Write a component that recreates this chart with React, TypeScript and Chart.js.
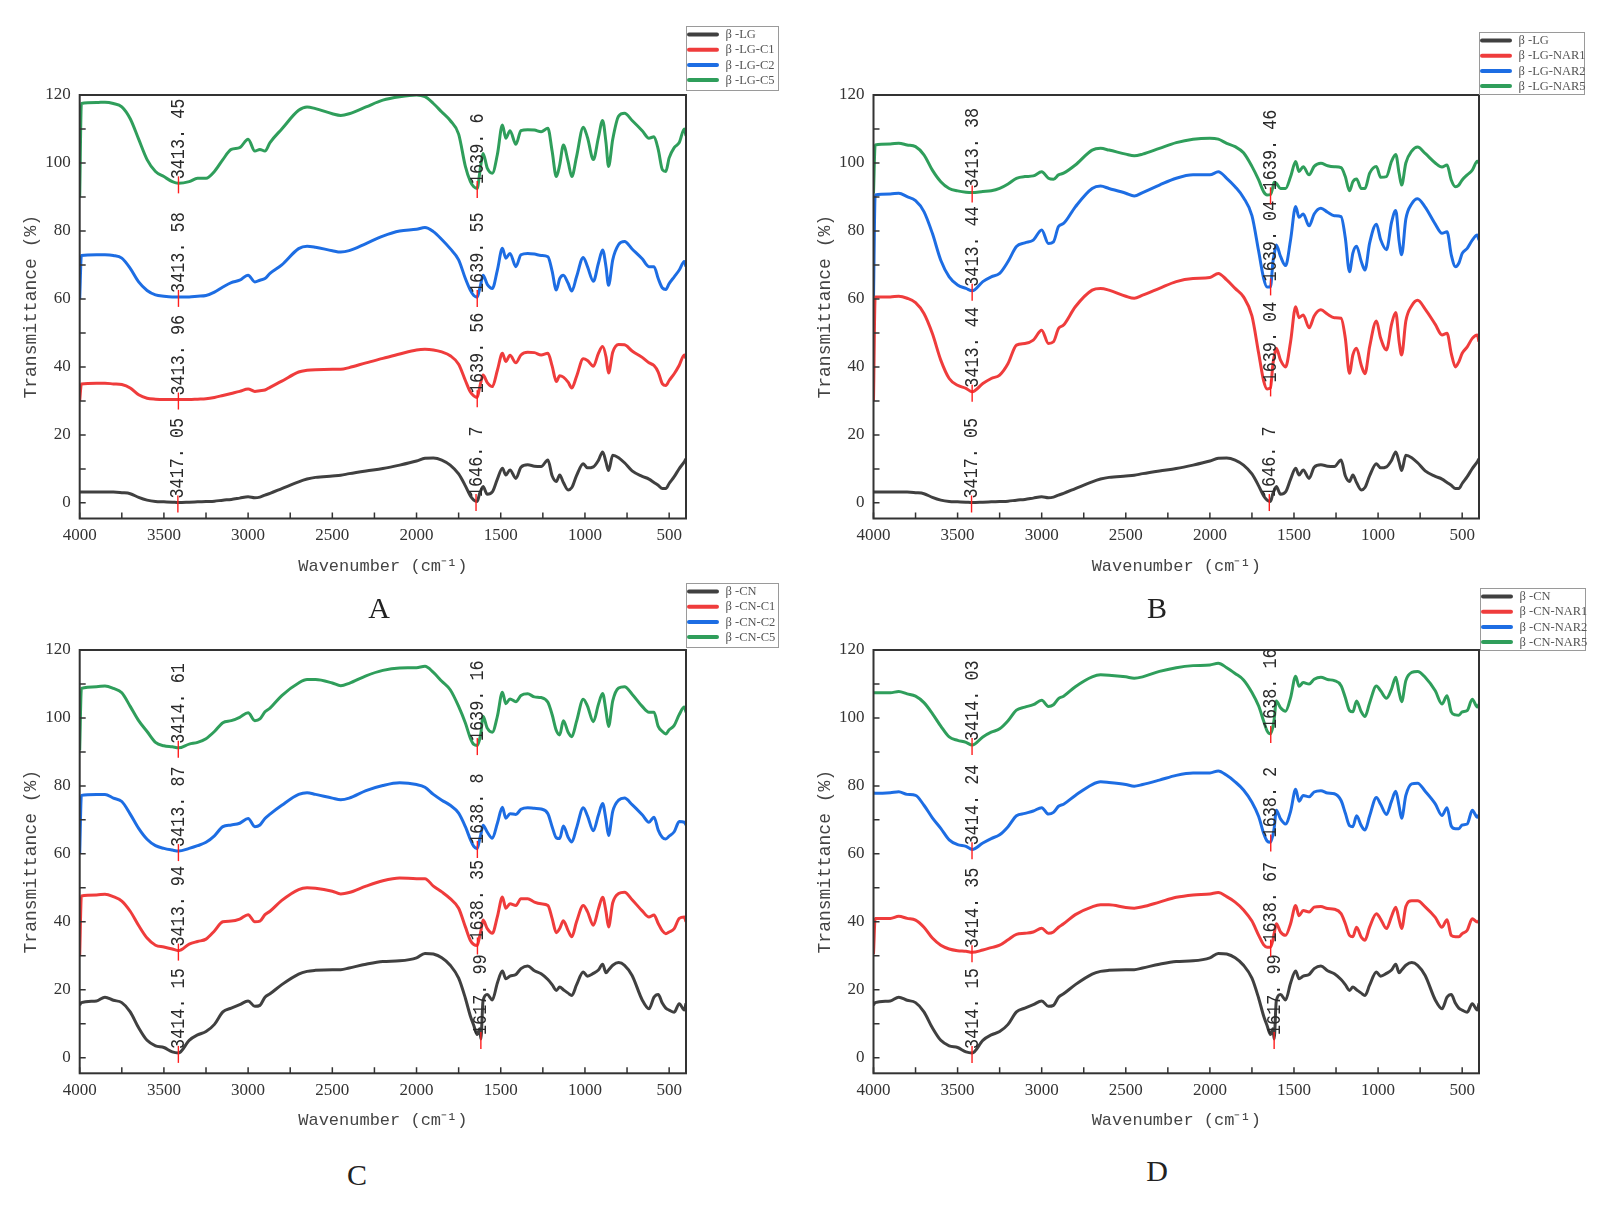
import React, { useEffect, useRef } from 'react';
import { Chart, registerables } from 'chart.js';

Chart.register(...registerables);

// ---------- data ----------
const WAVENUMBERS = [
  4000, 3990, 3900, 3850, 3800, 3750, 3700, 3650, 3600, 3550, 3500, 3450, 3413, 3350, 3300, 3250, 3200, 3150, 3100, 3050,
  3000, 2960, 2930, 2900, 2870, 2800, 2700, 2650, 2600, 2500, 2450, 2400, 2300, 2200, 2100, 2000, 1950, 1900, 1850, 1800,
  1750, 1710, 1680, 1660, 1640, 1625, 1618, 1605, 1580, 1550, 1520, 1490, 1470, 1445, 1410, 1380, 1340, 1300, 1260, 1220,
  1195, 1170, 1150, 1128, 1100, 1078, 1050, 1010, 985, 950, 920, 895, 875, 860, 835, 800, 765, 720, 660, 620,
  590, 565, 540, 520, 500, 470, 440, 410, 400,
];

const LG = [
  3.2, 3.2, 3.2, 3.2, 3.2, 3.0, 2.7, 1.6, 0.8, 0.4, 0.3, 0.2, 0.1, 0.2, 0.3, 0.4, 0.5, 0.8, 1.0, 1.4,
  1.8, 1.5, 1.7, 2.3, 2.8, 4.2, 6.2, 7.0, 7.5, 7.9, 8.1, 8.6, 9.4, 10.1, 11.1, 12.3, 13.1, 13.2, 12.6, 11.1,
  8.5, 5, 2, 0.8, 0.4, 2.8, 3.6, 4.8, 2.5, 3.2, 7, 10.2, 8.2, 9.7, 7.2, 10.5, 11.2, 10.8, 10.7, 12.6,
  8, 6.3, 8.2, 6, 3.8, 4.5, 8, 11.5, 10.3, 10.6, 12.5, 15, 12, 9.5, 14, 13.3, 11.8, 9.4, 7.8, 7,
  6, 5.2, 4.2, 4.2, 5.7, 7.7, 10.1, 12.1, 13,
];
const LG_C1 = [
  30, 35, 35.2, 35.2, 35, 34.8, 33.8, 31.8, 30.8, 30.5, 30.4, 30.4, 30.4, 30.4, 30.5, 30.6, 31, 31.6, 32.2, 32.8,
  33.5, 32.8, 33, 33.2, 34, 35.8, 38.5, 39, 39.2, 39.3, 39.3, 39.8, 41.2, 42.5, 43.8, 45, 45.2, 45, 44.4, 43.3,
  40.8, 36, 32.6, 31.5, 31, 34, 35.5, 37.6, 35.4, 34.2, 39, 44, 41.6, 43.4, 41.2, 43.5, 44.3, 44.2, 43.5, 44,
  40.3, 35.7, 37.4, 37, 35.5, 33.8, 37.2, 42.4, 41.9, 40.2, 44, 46, 43, 38.2, 44.3, 46.6, 46.5, 44.7, 42.8, 41.2,
  40.4, 38.5, 35, 34.5, 36, 38, 40.5, 43.5, 42.5,
];
const LG_C2 = [
  60, 72.8, 73, 73, 72.8, 72, 69, 65, 62.5, 61.2, 60.8, 60.6, 60.6, 60.6, 60.8, 61, 62, 63.5, 64.8, 65.5,
  67, 65, 65.5, 66, 67.5, 70, 74.8, 75.5, 75.2, 74.2, 73.8, 74.2, 76.3, 78.5, 80, 80.5, 81, 79.8, 77.5, 74.8,
  71.5, 66, 62.5, 61, 60.5, 63, 64.5, 67, 64.3, 63.1, 68.5, 74.9, 72, 73.4, 69.5, 73, 73.4, 73.2, 72.8, 72.4,
  68.2, 62.6, 66, 67, 64.6, 62.3, 66.5, 72.2, 69.5, 65.2, 70.5, 74.4, 69.5, 64, 71.5, 76, 76.9, 74.7, 71.8, 69.5,
  69.5, 66, 63.2, 62.8, 64.5, 66.5, 68.5, 71, 69.5,
];
const LG_C5 = [
  90, 117.5, 117.8, 117.9, 117.5, 116.5, 113, 107, 101, 97.5, 96, 94.5, 94, 94.5, 95.5, 95.5, 97.5, 101, 104, 104.5,
  107, 103.5, 104, 103.5, 106, 110, 115.5, 116.5, 116, 114.5, 114, 114.5, 116.5, 118.5, 119.5, 120, 119.5, 117.5, 115, 112.5,
  108.5, 99, 94.5, 93, 92.5, 97, 99.5, 102.8, 98.5, 97, 102.5, 111.2, 107.3, 109.5, 105.5, 109.5, 109.8, 109.7, 109.2, 110.2,
  103.5, 96, 99.4, 105.3, 100.4, 96, 101.8, 110.5, 107.5, 101, 107.5, 112.5, 106, 99, 107, 113.8, 114.6, 112.5, 109.5, 107.3,
  107.7, 104, 98, 97.5, 101.5, 104.5, 106, 110, 108,
];
const LG_NAR1 = [
  30, 60.6, 60.6, 60.8, 60.2, 58.9, 55.7, 49.8, 42, 36.6, 34.6, 33.7, 32.7, 35.1, 36.6, 37.6, 41, 46.4, 46.9, 47.9,
  50.8, 46.9, 47.4, 51.3, 52.3, 57.7, 62.6, 63.1, 62.6, 60.8, 60.2, 61.1, 63.1, 65.1, 66, 66.3, 67.5, 65.6, 63.1, 60.6,
  55, 44, 35.8, 33.5, 33.8, 41, 43, 45.5, 42, 40, 47.5, 57.7, 54.5, 55.3, 51.5, 55, 56.8, 55.5, 54.5, 54.3,
  48.5, 38.1, 43.5, 45.5, 40.5, 38, 46, 53.5, 48.5, 45, 52.5, 56, 47.5, 43.5, 53.5, 58, 59.6, 57, 52.5, 49.4,
  49.9, 44, 40, 41.5, 44, 45.9, 48.4, 49.4, 47.4,
];
const LG_NAR2 = [
  60, 90.6, 90.9, 91.1, 90.1, 88.9, 85.7, 79.3, 71.4, 66.5, 64.1, 63.1, 62.4, 65.1, 66.5, 67.5, 71, 75.4, 76.5, 77.3,
  80.3, 76.3, 76.8, 81.3, 82.2, 87.1, 92.5, 93.2, 92.5, 91.1, 90.3, 91.3, 93.5, 95.5, 96.5, 96.5, 97.4, 95.5, 93, 89.8,
  84.5, 74, 66, 63.5, 63.5, 71, 73, 75.9, 72.5, 69.8, 77.5, 87.2, 84, 85, 81.5, 85, 86.7, 85.5, 84.5, 84.2,
  78, 68, 73.5, 75.5, 71, 68.5, 76.5, 82, 77.5, 74.5, 82.5, 86, 77, 73, 83.5, 88, 89.5, 87, 82, 79.3,
  79.8, 73, 69.5, 70.5, 73.4, 74.9, 77.3, 78.8, 77.3,
];
const LG_NAR5 = [
  91, 105.3, 105.6, 105.8, 105.3, 104.8, 102.4, 97.9, 94.5, 92.5, 91.8, 91.4, 91.3, 91.6, 91.8, 92.5, 93.8, 95.5, 96, 96.2,
  97.4, 95.5, 95.2, 96.5, 97, 99.4, 103.8, 104.3, 103.8, 102.6, 102.1, 102.6, 104.3, 106, 107, 107.3, 107, 105.8, 104.8, 103,
  99, 95, 91.5, 90.6, 90.7, 93, 94.3, 94, 92.5, 92.5, 96, 100.4, 97.5, 98.9, 96.5, 99, 99.9, 99.2, 98.9, 98.6,
  96, 91.8, 94.5, 95.3, 92.5, 92.5, 97, 99, 95.8, 96, 100.5, 102.5, 97, 93.5, 100, 103.5, 104.7, 102.8, 100, 98.8,
  99.4, 95, 93, 93.5, 95, 96.5, 97.9, 100.5, 99.9,
];
const CN = [
  15.5, 16.2, 16.7, 17.8, 16.9, 16.2, 13.5, 8.8, 5.1, 3.5, 3, 1.7, 1.4, 5.1, 6.7, 7.7, 9.8, 13.5, 14.6, 15.6,
  16.7, 15.1, 15.4, 17.8, 18.8, 21.5, 24.6, 25.4, 25.7, 25.9, 25.9, 26.4, 27.5, 28.3, 28.5, 29.4, 30.7, 30.5, 29.4, 27.2,
  23.4, 17.5, 12.2, 9.5, 6.8, 8.5, 5.5, 16.8, 18.6, 17, 22, 25.5, 23.2, 24, 24.5, 26.2, 27, 25.6, 24.7, 23,
  21.5, 19.8, 20.8, 20, 19, 18.3, 21.4, 25.2, 24, 24.8, 25.8, 27.5, 25, 25.8, 27.2, 28, 27.2, 24.2, 17, 14.4,
  17.8, 18.6, 16, 14.6, 14, 13.4, 15.9, 14, 16,
];
const CN_C1 = [
  30, 47.6, 47.9, 48.1, 47.4, 46.1, 43.1, 38.9, 35.2, 33.1, 32.6, 32, 31.5, 33.4, 34.2, 34.9, 37.3, 40, 40.2, 40.8,
  42.1, 40, 40.2, 42.1, 43.1, 46.3, 49.5, 50, 49.9, 49, 48.2, 48.6, 50.5, 52.1, 52.9, 52.7, 52.7, 50.5, 48.8, 46.8,
  44, 38.5, 34.5, 33.3, 33, 35.8, 37.3, 40.5, 38, 36.6, 41.5, 47.3, 44, 45.3, 44.8, 46.8, 46.8, 45.8, 45.3, 44.8,
  41, 36.8, 38, 40.3, 37.4, 35.6, 40, 44.8, 43, 39, 43.8, 47.2, 43, 38.5, 45.6, 48.3, 48.7, 46.5, 43.2, 41.4,
  42, 39.5, 37.3, 36.5, 37, 38, 41, 41.4, 40,
];
const CN_C2 = [
  60, 77.2, 77.5, 77.5, 76.4, 75.4, 71.7, 67.5, 64.3, 62.4, 61.6, 61.1, 60.8, 61.6, 62.4, 63.4, 65.3, 68, 68.5, 69,
  70.4, 68, 68.5, 70.4, 71.7, 74.3, 77.5, 78, 77.5, 76.4, 75.9, 76.4, 78.6, 80.1, 80.9, 80.4, 79.6, 77.5, 75.8, 74.3,
  72, 68, 64.2, 62.2, 61.5, 64.3, 65.7, 68.4, 66.4, 64.6, 69, 73.7, 70.5, 71.8, 71.6, 73.1, 73.6, 73.4, 73.2, 71.8,
  68, 64.7, 64.5, 68.2, 64.9, 63.5, 67.6, 73.6, 71.2, 66.8, 71.4, 74.8, 70, 65.4, 72.5, 75.8, 76.4, 74.5, 71.5, 69.3,
  70.8, 67, 64.8, 64.4, 65.2, 66.5, 69.5, 69.3, 68.5,
];
const CN_C5 = [
  90.5, 108.7, 109.2, 109.4, 108.7, 107.4, 103.4, 99.2, 96, 92.8, 91.8, 91.5, 91.2, 92.3, 92.8, 93.9, 96, 98.6, 99.2, 100.2,
  101.5, 99.2, 99.7, 101.8, 102.9, 106.6, 110.3, 111.3, 111.3, 110.3, 109.5, 110.2, 112.4, 114, 114.7, 114.8, 115.2, 113.4, 110.8, 108.3,
  103.4, 98.5, 94, 92.2, 91.9, 93.8, 95.5, 100.5, 97, 95.8, 100.5, 107.6, 104.2, 105.6, 104.8, 106.6, 107.1, 106.2, 106, 104.6,
  101, 96.3, 95, 99.2, 95.8, 94.5, 99, 105.5, 103.5, 98.9, 104, 107.2, 102, 97.5, 105, 108.8, 109.2, 107, 103.4, 101.7,
  101.7, 97.5, 96, 95.3, 96.5, 97.8, 101, 103.2, 101.7,
];
const CN_NAR1 = [
  30.5, 41, 41, 41.6, 41, 40.5, 38.4, 35.2, 33.1, 32, 31.5, 31.3, 31, 31.7, 32.4, 33.1, 34.7, 36.3, 36.6, 37,
  38.1, 36.6, 37, 38.4, 39.4, 42.1, 44.4, 45, 45, 44.2, 44, 44.4, 45.8, 47.2, 47.9, 48.2, 48.6, 47.4, 45.8, 43.5,
  40.2, 36, 33.2, 32.5, 32.5, 34.7, 36.5, 39.4, 37, 36, 39.5, 44.8, 41.8, 43.3, 42.9, 44.3, 44.5, 43.9, 43.7, 42.4,
  39.5, 36, 35.6, 38.4, 35.5, 34.6, 38.5, 42.4, 40.8, 38, 41.6, 44.3, 40.6, 38, 44.5, 46.2, 46.2, 44.4, 41.3, 38.4,
  40.6, 36, 35.6, 35.6, 36.5, 37.5, 40.9, 39.9, 40.3,
];
const CN_NAR2 = [
  78, 77.8, 78, 78.3, 77.5, 77.2, 74.3, 70.6, 67.5, 64.1, 62.7, 62.2, 61.3, 63.2, 64.5, 65.6, 68, 71.2, 71.9, 72.6,
  73.6, 71.7, 72.2, 74, 74.6, 77.2, 80.4, 81.2, 81, 80.4, 79.9, 80.4, 81.7, 83.1, 83.8, 83.8, 84.4, 83.1, 81.2, 78.8,
  75.2, 71, 66, 63.8, 63.4, 65.6, 67.5, 72.8, 70.3, 68.8, 72.5, 79, 75.5, 77.2, 76.8, 78.2, 78.6, 77.9, 77.7, 75.7,
  72, 68.3, 68, 71.2, 68.3, 67, 71.2, 76.6, 74.6, 71.6, 75.5, 78.4, 74, 70.5, 77.2, 80.6, 80.8, 78.4, 74.7, 71.3,
  73.6, 68.2, 67.4, 67.4, 68.5, 68.8, 72.8, 70.8, 71.5,
];
const CN_NAR5 = [
  107.4, 107.4, 107.4, 107.8, 107.1, 106.4, 104.5, 101.3, 97.6, 94.4, 93.4, 92.8, 92, 94.4, 95.8, 96.8, 99.2, 102.3, 103.2, 103.9,
  105.2, 103.4, 103.9, 105.7, 106.4, 109.2, 112.1, 112.7, 112.6, 112.1, 111.7, 112.1, 113.7, 114.8, 115.4, 115.6, 116.1, 114.8, 113.1, 111.2,
  107.5, 103.5, 99, 96.2, 95.3, 97.5, 99.5, 105, 103, 102, 106, 112.3, 109.3, 110.4, 110, 111.4, 112, 111.3, 111, 109.5,
  106, 102.2, 101.8, 105, 101.8, 100.4, 104.5, 109.4, 108, 105.8, 108.5, 112, 107.5, 104.8, 111, 113.4, 113.7, 112, 108, 104.1,
  106.5, 101.8, 100.9, 100.8, 101.8, 102.2, 105.5, 103.2, 104,
];

const X_TICKS = [4000, 3500, 3000, 2500, 2000, 1500, 1000, 500];
const X_TICK_MARKS = [4000, 3750, 3500, 3250, 3000, 2750, 2500, 2250, 2000, 1750, 1500, 1250, 1000, 750, 500];
const Y_TICKS = [0, 20, 40, 60, 80, 100, 120];
const Y_TICK_MARKS = [0, 10, 20, 30, 40, 50, 60, 70, 80, 90, 100, 110, 120];

const NAMES_A = ['β -LG', 'β -LG-C1', 'β -LG-C2', 'β -LG-C5'];
const NAMES_B = ['β -LG', 'β -LG-NAR1', 'β -LG-NAR2', 'β -LG-NAR5'];
const NAMES_C = ['β -CN', 'β -CN-C1', 'β -CN-C2', 'β -CN-C5'];
const NAMES_D = ['β -CN', 'β -CN-NAR1', 'β -CN-NAR2', 'β -CN-NAR5'];

const PEAKS_A = [['3417.05', '1646.7'], ['3413.96', '1639.56'], ['3413.58', '1639.55'], ['3413.45', '1639.6']];
const PEAKS_B = [['3417.05', '1646.7'], ['3413.44', '1639.04'], ['3413.44', '1639.04'], ['3413.38', '1639.46']];
const PEAKS_C = [['3414.15', '1617.99'], ['3413.94', '1638.35'], ['3413.87', '1638.8'], ['3414.61', '1639.16']];
const PEAKS_D = [['3414.15', '1617.99'], ['3414.35', '1638.67'], ['3414.24', '1638.2'], ['3414.03', '1638.16']];

// ---------- style / layout ----------
const COLORS = ['#404040', '#ef3c3c', '#1d6de3', '#2f9e5b'];
const X_AXIS_H = 60;
const TITLE_FONT_Y = 18;
const TITLE_FONT_X = 17;

type Rect = { left: number; top: number; w: number; h: number };
type Area = { left: number; top: number; right: number; bottom: number };
type PanelCfg = {
  id: string;
  canvas: Rect;
  area: Area;
  legend: { x: number; y: number; w: number; h: number };
  letter: { x: number; y: number };
  series: number[][];
  names: string[];
  peaks: string[][];
};

const PANELS: PanelCfg[] = [
  {
    id: 'A',
    canvas: { left: 0, top: 0, w: 790, h: 580 },
    area: { left: 79.7, top: 95, right: 686, bottom: 518.5 },
    legend: { x: 686, y: 26, w: 92, h: 64 },
    letter: { x: 379, y: 608 },
    series: [LG, LG_C1, LG_C2, LG_C5],
    names: NAMES_A,
    peaks: PEAKS_A,
  },
  {
    id: 'B',
    canvas: { left: 790, top: 0, w: 831, h: 580 },
    area: { left: 873.5, top: 95, right: 1479, bottom: 518.5 },
    legend: { x: 1479, y: 32, w: 105, h: 62 },
    letter: { x: 1157, y: 608 },
    series: [LG, LG_NAR1, LG_NAR2, LG_NAR5],
    names: NAMES_B,
    peaks: PEAKS_B,
  },
  {
    id: 'C',
    canvas: { left: 0, top: 575, w: 790, h: 575 },
    area: { left: 79.7, top: 650, right: 686, bottom: 1073.3 },
    legend: { x: 686, y: 583, w: 92, h: 64 },
    letter: { x: 357, y: 1175 },
    series: [CN, CN_C1, CN_C2, CN_C5],
    names: NAMES_C,
    peaks: PEAKS_C,
  },
  {
    id: 'D',
    canvas: { left: 790, top: 575, w: 831, h: 575 },
    area: { left: 873.5, top: 650, right: 1479, bottom: 1073.3 },
    legend: { x: 1480, y: 588, w: 105, h: 62 },
    letter: { x: 1157, y: 1171 },
    series: [CN, CN_NAR1, CN_NAR2, CN_NAR5],
    names: NAMES_D,
    peaks: PEAKS_D,
  },
];

function valueAt(data: { x: number; y: number }[], w: number): number {
  for (let i = 0; i < data.length - 1; i++) {
    const a = data[i];
    const b = data[i + 1];
    if ((a.x - w) * (b.x - w) <= 0) {
      const t = (w - a.x) / (b.x - a.x);
      return a.y + t * (b.y - a.y);
    }
  }
  return data[data.length - 1].y;
}

function makeDecor(p: PanelCfg) {
  return {
    id: 'decor' + p.id,
    afterDatasetsDraw(chart: any) {
      const { ctx, chartArea: a } = chart;
      const xs = chart.scales.x;
      const ys = chart.scales.y;
      ctx.save();

      // peak annotations
      chart.data.datasets.forEach((ds: any, i: number) => {
        p.peaks[i].forEach((lab) => {
          const w = parseFloat(lab);
          const v = valueAt(ds.data, w);
          const px = xs.getPixelForValue(w);
          const py = ys.getPixelForValue(v);
          ctx.strokeStyle = '#ff1e1e';
          ctx.lineWidth = 1.4;
          ctx.beginPath();
          ctx.moveTo(px, py - 7);
          ctx.lineTo(px, py + 10);
          ctx.stroke();
          ctx.save();
          ctx.translate(px, py - 4);
          ctx.rotate(-Math.PI / 2);
          ctx.scale(0.8, 1);
          ctx.font = '21px "Liberation Mono"';
          ctx.fillStyle = '#2a2a2a';
          ctx.textAlign = 'left';
          ctx.textBaseline = 'middle';
          ctx.fillText(lab.replace('.', '. '), 0, 0);
          ctx.restore();
        });
      });

      // frame
      ctx.strokeStyle = '#333';
      ctx.lineWidth = 2;
      ctx.strokeRect(a.left, a.top, a.right - a.left, a.bottom - a.top);

      // inward tick marks
      ctx.lineWidth = 1.5;
      ctx.beginPath();
      X_TICK_MARKS.forEach((w) => {
        const px = xs.getPixelForValue(w);
        ctx.moveTo(px, a.bottom);
        ctx.lineTo(px, a.bottom - 6);
      });
      Y_TICK_MARKS.forEach((v) => {
        const py = ys.getPixelForValue(v);
        ctx.moveTo(a.left, py);
        ctx.lineTo(a.left + 6, py);
      });
      ctx.stroke();

      // legend
      const L = p.legend;
      const lx = L.x - p.canvas.left;
      const ly = L.y - p.canvas.top;
      ctx.fillStyle = '#fff';
      ctx.fillRect(lx, ly, L.w, L.h);
      ctx.strokeStyle = '#9a9a9a';
      ctx.lineWidth = 1;
      ctx.strokeRect(lx + 0.5, ly + 0.5, L.w, L.h);
      chart.data.datasets.forEach((ds: any, i: number) => {
        const ry = ly + 8.5 + i * 15.2;
        ctx.strokeStyle = ds.borderColor;
        ctx.lineWidth = 4;
        ctx.lineCap = 'round';
        ctx.beginPath();
        ctx.moveTo(lx + 3, ry);
        ctx.lineTo(lx + 31, ry);
        ctx.stroke();
        ctx.fillStyle = '#555';
        ctx.font = '12.5px "Liberation Serif"';
        ctx.textAlign = 'left';
        ctx.textBaseline = 'middle';
        ctx.fillText(ds.label, lx + 39.5, ry + 0.5);
      });

      ctx.restore();
    },
  };
}

function Panel({ p }: { p: PanelCfg }) {
  const ref = useRef<HTMLCanvasElement | null>(null);
  useEffect(() => {
    if (!ref.current) return;
    const yAxisW = p.area.left - p.canvas.left;
    const yTitleCenter = yAxisW - 48.6;
    const lhY = TITLE_FONT_Y * 1.2;
    const lhX = TITLE_FONT_X * 1.2;
    const chart = new Chart(ref.current, {
      type: 'line',
      data: {
        datasets: p.series.map((s, i) => ({
          label: p.names[i],
          data: WAVENUMBERS.map((x, j) => ({ x, y: s[j] })),
          borderColor: COLORS[i],
          backgroundColor: COLORS[i],
          borderWidth: 3,
          pointRadius: 0,
          fill: false,
          cubicInterpolationMode: 'monotone',
        })),
      },
      options: {
        responsive: false,
        animation: false,
        devicePixelRatio: 1,
        events: [],
        layout: {
          padding: {
            left: 0,
            top: p.area.top - p.canvas.top,
            right: p.canvas.left + p.canvas.w - p.area.right,
            bottom: p.canvas.top + p.canvas.h - p.area.bottom - X_AXIS_H,
          },
        },
        plugins: { legend: { display: false }, tooltip: { enabled: false } },
        scales: {
          x: {
            type: 'linear',
            reverse: true,
            min: 400,
            max: 4000,
            afterBuildTicks: (s: any) => {
              s.ticks = X_TICKS.map((v) => ({ value: v }));
            },
            afterFit: (s: any) => {
              s.height = X_AXIS_H;
            },
            grid: { display: false, drawTicks: false },
            border: { display: false },
            ticks: {
              autoSkip: false,
              maxRotation: 0,
              padding: 7,
              color: '#333',
              font: { family: 'Liberation Serif', size: 17 },
              callback: (v: any) => String(v),
            },
            title: {
              display: true,
              text: 'Wavenumber (cm⁻¹)',
              color: '#444',
              font: { family: 'Liberation Mono', size: TITLE_FONT_X },
              padding: { top: 0, bottom: X_AXIS_H - 47.5 - lhX / 2 },
            },
          },
          y: {
            type: 'linear',
            min: -4.6,
            max: 120,
            afterBuildTicks: (s: any) => {
              s.ticks = Y_TICKS.map((v) => ({ value: v }));
            },
            afterFit: (s: any) => {
              s.width = yAxisW;
            },
            grid: { display: false, drawTicks: false },
            border: { display: false },
            ticks: {
              padding: 9,
              color: '#333',
              font: { family: 'Liberation Serif', size: 17 },
              callback: (v: any) => String(v),
            },
            title: {
              display: true,
              text: 'Transmittance (%)',
              color: '#444',
              font: { family: 'Liberation Mono', size: TITLE_FONT_Y },
              padding: { top: yTitleCenter - lhY / 2, bottom: 0 },
            },
          },
        },
      } as any,
      plugins: [makeDecor(p)],
    });
    return () => chart.destroy();
  }, [p]);
  return (
    <canvas
      ref={ref}
      width={p.canvas.w}
      height={p.canvas.h}
      style={{ position: 'absolute', left: p.canvas.left, top: p.canvas.top, width: p.canvas.w, height: p.canvas.h }}
    />
  );
}

export default function App() {
  useEffect(() => {
    document.body.style.margin = '0';
    document.documentElement.style.overflow = 'hidden';
  }, []);
  return (
    <div style={{ position: 'absolute', left: 0, top: 0, width: 1621, height: 1227, background: '#fff', overflow: 'hidden' }}>
      {PANELS.map((p) => (
        <Panel key={p.id} p={p} />
      ))}
      {PANELS.map((p) => (
        <div
          key={'L' + p.id}
          style={{
            position: 'absolute',
            left: p.letter.x,
            top: p.letter.y,
            transform: 'translate(-50%, -50%)',
            fontFamily: '"Liberation Serif", serif',
            fontSize: 30,
            color: '#222',
            lineHeight: 1,
          }}
        >
          {p.id}
        </div>
      ))}
    </div>
  );
}
